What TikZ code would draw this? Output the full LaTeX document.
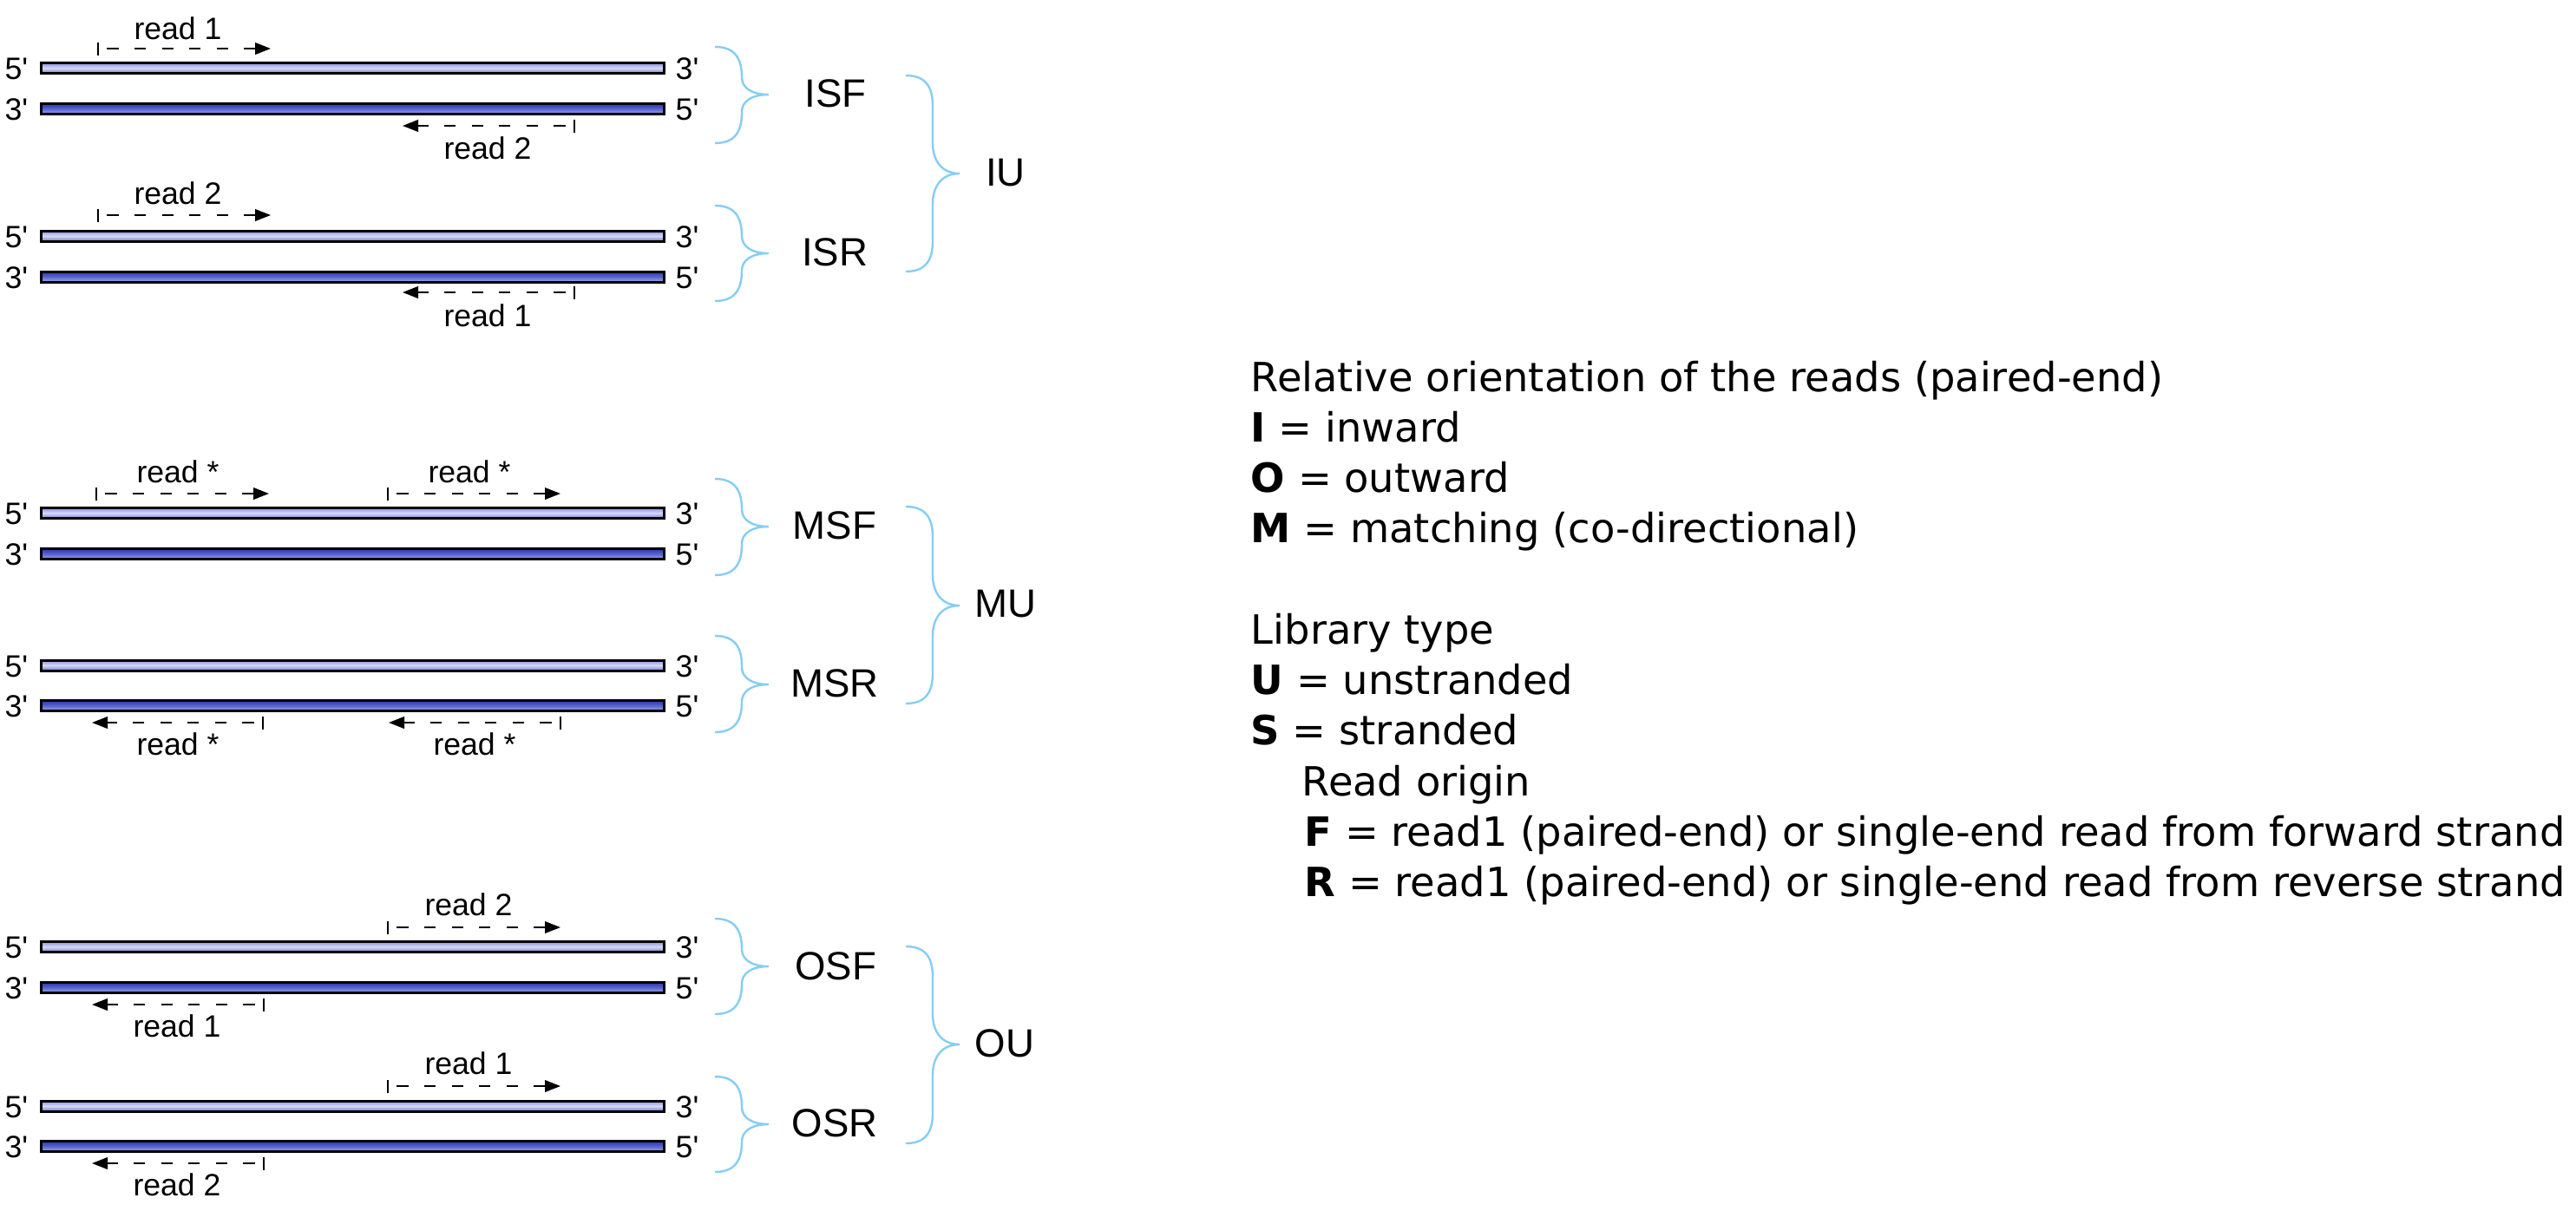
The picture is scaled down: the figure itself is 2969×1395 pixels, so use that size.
\documentclass[tikz,border=0pt]{standalone}
\usepackage{fontspec}
\newfontfamily\hvfont{Liberation Sans}
\newfontfamily\djfont{DejaVu Sans}
\usetikzlibrary{arrows.meta}
\definecolor{bracecol}{RGB}{135,205,245}
\definecolor{lightTop}{RGB}{138,146,218}
\definecolor{lightMid}{RGB}{214,218,245}
\definecolor{lightBot}{RGB}{112,120,205}
\definecolor{darkTop}{RGB}{40,55,170}
\definecolor{darkMid}{RGB}{88,102,208}
\definecolor{darkBot}{RGB}{160,168,230}
\tikzset{
  strandlight/.style={draw=black, line width=0.75pt, top color=lightTop, bottom color=lightBot, middle color=lightMid},
  stranddark/.style={draw=black, line width=0.75pt, top color=darkTop, bottom color=darkBot, middle color=darkMid},
  readarr/.style={draw=black, line width=0.5pt, dash pattern=on 3.3pt off 4.6pt, dash phase=5.4pt,
    {Bar[width=3.75pt,line width=0.45pt]}-{Triangle[length=4.5pt,width=3.4pt]}},
  rlbl/.style={inner sep=0pt, font=\hvfont\fontsize{8.9pt}{10pt}\selectfont, anchor=base},
  endlbl/.style={inner sep=0pt, font=\hvfont\fontsize{8.9pt}{10pt}\selectfont},
  grplbl/.style={inner sep=0pt, font=\hvfont\fontsize{11.4pt}{13pt}\selectfont},
  bracestyle/.style={draw=bracecol, line width=0.6pt},
  rt/.style={inner sep=0pt, anchor=base west, font=\djfont\fontsize{11.6pt}{14pt}\selectfont}
}
% curly brace: x0, ytop, ytip, ybot, t
\newcommand\cbr[5]{%
 \pgfmathsetmacro\bxm{#1+31}%
 \pgfmathsetmacro\bxe{#1+62}%
 \pgfmathsetmacro\bxc{#1+22}%
 \pgfmathsetmacro\bxd{#1+42}%
 \pgfmathsetmacro\bya{#2+35}%
 \pgfmathsetmacro\byb{#2+12}%
 \pgfmathsetmacro\byc{#3-#5}%
 \pgfmathsetmacro\byd{#3-0.4*#5}%
 \pgfmathsetmacro\bye{#3+#5}%
 \pgfmathsetmacro\byf{#3+0.4*#5}%
 \pgfmathsetmacro\byg{#4-35}%
 \pgfmathsetmacro\byh{#4-12}%
 \draw[bracestyle] (#1,#2) .. controls (\bxc,#2) and (\bxm,\byb) .. (\bxm,\bya) -- (\bxm,\byc)
   .. controls (\bxm,\byd) and (\bxd,#3) .. (\bxe,#3)
   .. controls (\bxd,#3) and (\bxm,\byf) .. (\bxm,\bye) -- (\bxm,\byg)
   .. controls (\bxm,\byh) and (\bxc,#4) .. (#1,#4);
}
% double strand: prefix, y of top strand, y of bottom strand
\newcommand\dsdna[3]{%
 \draw[strandlight] (47.5,#2-6) rectangle (765.5,#2+6);
 \draw[stranddark] (47.5,#3-6) rectangle (765.5,#3+6);
 \node[endlbl] (#1tl) at (19,#2+1) {5\textquotesingle};
 \node[endlbl] (#1tr) at (792,#2+1) {3\textquotesingle};
 \node[endlbl] (#1bl) at (19,#3+1) {3\textquotesingle};
 \node[endlbl] (#1br) at (792,#3+1) {5\textquotesingle};
}
\begin{document}
\begin{tikzpicture}[x=0.25pt,y=-0.25pt]
\useasboundingbox[fill=white] (0,0) rectangle (2969,1395);

% ---------- strands ----------
\dsdna{isf}{78.5}{125.5}
\dsdna{isr}{272}{319}
\dsdna{msf}{591.5}{638.5}
\dsdna{msr}{767}{813.5}
\dsdna{osf}{1091.5}{1138.5}
\dsdna{osr}{1275}{1321.5}

% ---------- reads ----------
% ISF
\coordinate (a1s) at (112,56);  \coordinate (a1e) at (312,56);
\draw[readarr] (a1s) -- (a1e);
\node[rlbl] (r1) at (205,45) {read 1};
\coordinate (a2s) at (663,145); \coordinate (a2e) at (464,145);
\draw[readarr] (a2s) -- (a2e);
\node[rlbl] (r2) at (562,183) {read 2};
% ISR
\coordinate (a3s) at (112,248); \coordinate (a3e) at (312,248);
\draw[readarr] (a3s) -- (a3e);
\node[rlbl] (r3) at (205,235) {read 2};
\coordinate (a4s) at (663,337); \coordinate (a4e) at (464,337);
\draw[readarr] (a4s) -- (a4e);
\node[rlbl] (r4) at (562,376) {read 1};
% MSF
\coordinate (a5s) at (110,569); \coordinate (a5e) at (310,569);
\draw[readarr] (a5s) -- (a5e);
\node[rlbl] (r5) at (205,556) {read *};
\coordinate (a6s) at (446,569); \coordinate (a6e) at (646,569);
\draw[readarr] (a6s) -- (a6e);
\node[rlbl] (r6) at (541,556) {read *};
% MSR
\coordinate (a7s) at (304,833); \coordinate (a7e) at (106,833);
\draw[readarr] (a7s) -- (a7e);
\node[rlbl] (r7) at (205,870) {read *};
\coordinate (a8s) at (647,833); \coordinate (a8e) at (448,833);
\draw[readarr] (a8s) -- (a8e);
\node[rlbl] (r8) at (547,870) {read *};
% OSF
\coordinate (a9s) at (446,1069); \coordinate (a9e) at (646,1069);
\draw[readarr] (a9s) -- (a9e);
\node[rlbl] (r9) at (540,1055) {read 2};
\coordinate (a10s) at (305,1158); \coordinate (a10e) at (106,1158);
\draw[readarr] (a10s) -- (a10e);
\node[rlbl] (r10) at (204,1195) {read 1};
% OSR
\coordinate (a11s) at (446,1252); \coordinate (a11e) at (646,1252);
\draw[readarr] (a11s) -- (a11e);
\node[rlbl] (r11) at (540,1238) {read 1};
\coordinate (a12s) at (305,1341); \coordinate (a12e) at (106,1341);
\draw[readarr] (a12s) -- (a12e);
\node[rlbl] (r12) at (204,1378) {read 2};

% ---------- braces ----------
\cbr{824}{54}{109}{165}{20}
\cbr{824}{237}{292}{347}{20}
\cbr{824}{552}{607}{663}{20}
\cbr{824}{733}{789}{844}{20}
\cbr{824}{1059}{1114}{1169}{20}
\cbr{824}{1241}{1296}{1351}{20}
\cbr{1044}{87}{200}{313}{35}
\cbr{1044}{584}{698}{811}{35}
\cbr{1044}{1091}{1204}{1318}{35}

% ---------- group labels ----------
\node[grplbl] (isf) at (963,108) {ISF};
\node[grplbl] (isr) at (962,291) {ISR};
\node[grplbl] (msf) at (962,606) {MSF};
\node[grplbl] (msr) at (962,788) {MSR};
\node[grplbl] (osf) at (963,1114) {OSF};
\node[grplbl] (osr) at (962,1295) {OSR};
\node[grplbl] (iu) at (1159,199) {IU};
\node[grplbl] (mu) at (1159,696) {MU};
\node[grplbl] (ou) at (1158,1203) {OU};

% ---------- legend ----------
\node[rt] (t1) at (1441,451) {Relative orientation of the reads (paired-end)};
\node[rt] (t2) at (1441,509) {\textbf{I} = inward};
\node[rt] (t3) at (1441,567) {\textbf{O} = outward};
\node[rt] (t4) at (1441,625) {\textbf{M} = matching (co-directional)};
\node[rt] (t5) at (1441,742) {Library type};
\node[rt] (t6) at (1441,800) {\textbf{U} = unstranded};
\node[rt] (t7) at (1441,858) {\textbf{S} = stranded};
\node[rt] (t8) at (1500,917) {Read origin};
\node[rt] (t9) at (1503,975) {\textbf{F} = read1 (paired-end) or single-end read from forward strand};
\node[rt] (t10) at (1503,1033) {\textbf{R} = read1 (paired-end) or single-end read from reverse strand};
\end{tikzpicture}
\end{document}
